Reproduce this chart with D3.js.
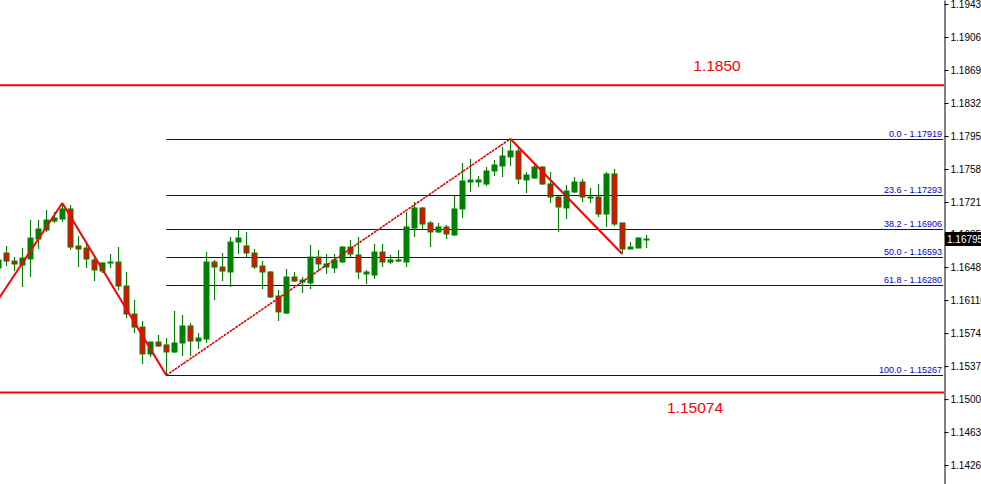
<!DOCTYPE html>
<html><head><meta charset="utf-8">
<script src="https://cdn.jsdelivr.net/npm/d3@7/dist/d3.min.js"></script>
<style>
html,body{margin:0;padding:0;background:#fff;}
svg{display:block;}
</style></head>
<body>
<svg id="chart" width="981" height="484"></svg>
<script>
const opens = [1.16470,1.16638,1.16548,1.16504,1.16571,1.16795,1.16896,1.16997,1.17019,1.17132,
1.16717,1.16694,1.16560,1.16436,1.16526,1.16537,1.16268,1.15954,1.15808,1.15506,
1.15640,1.15607,1.15528,1.15629,1.15820,1.15651,1.15674,1.16537,1.16481,1.16425,
1.16761,1.16717,1.16638,1.16492,1.16425,1.16156,1.15965,1.16369,1.16313,1.16302,
1.16593,1.16481,1.16470,1.16537,1.16705,1.16616,1.16403,1.16391,1.16649,1.16537,
1.16548,1.16537,1.16918,1.17143,1.16975,1.16874,1.16930,1.16840,1.17132,1.17434,
1.17434,1.17412,1.17558,1.17614,1.17715,1.17782,1.17457,1.17479,1.17602,1.17412,
1.17266,1.17143,1.17322,1.17434,1.17255,1.17266,1.17075,1.17524,1.16975,1.16683,
1.16694,1.16790];
const highs = [1.16616,1.16717,1.16593,1.16694,1.17008,1.17008,1.17120,1.17098,1.17199,1.17176,
1.16829,1.16761,1.16593,1.16537,1.16627,1.16705,1.16425,1.16111,1.15876,1.15640,
1.15719,1.15685,1.15988,1.15943,1.15853,1.15741,1.16649,1.16560,1.16638,1.16817,
1.16896,1.16874,1.16683,1.16548,1.16436,1.16223,1.16459,1.16425,1.16369,1.16728,
1.16672,1.16627,1.16627,1.16717,1.16784,1.16817,1.16448,1.16739,1.16739,1.16616,
1.16672,1.17098,1.17210,1.17154,1.16997,1.16975,1.16952,1.17277,1.17647,1.17692,
1.17502,1.17602,1.17681,1.17827,1.17919,1.17838,1.17546,1.17647,1.17614,1.17546,
1.17277,1.17401,1.17490,1.17468,1.17367,1.17412,1.17546,1.17580,1.16975,1.16761,
1.16817,1.16840];
const lows = [1.16448,1.16492,1.16436,1.16257,1.16369,1.16683,1.16874,1.16975,1.16986,1.16672,
1.16481,1.16470,1.16324,1.16414,1.16470,1.16223,1.15909,1.15741,1.15394,1.15472,
1.15584,1.15267,1.15517,1.15483,1.15483,1.15562,1.15629,1.16111,1.16324,1.16257,
1.16627,1.16593,1.16459,1.16234,1.16134,1.15876,1.15954,1.16313,1.16190,1.16234,
1.16436,1.16403,1.16414,1.16526,1.16582,1.16347,1.16290,1.16347,1.16481,1.16515,
1.16537,1.16481,1.16817,1.16907,1.16705,1.16862,1.16795,1.16829,1.17031,1.17322,
1.17378,1.17389,1.17502,1.17490,1.17614,1.17412,1.17311,1.17468,1.17401,1.17199,
1.16874,1.17019,1.17311,1.17210,1.17199,1.17042,1.16930,1.16941,1.16627,1.16683,
1.16694,1.16694];
const closes = [1.16560,1.16548,1.16515,1.16582,1.16806,1.16907,1.17008,1.17031,1.17132,1.16705,
1.16683,1.16571,1.16448,1.16526,1.16537,1.16268,1.15954,1.15808,1.15506,1.15640,
1.15595,1.15528,1.15629,1.15820,1.15651,1.15685,1.16537,1.16481,1.16436,1.16761,
1.16806,1.16638,1.16481,1.16425,1.16145,1.15977,1.16369,1.16324,1.16335,1.16593,
1.16515,1.16515,1.16560,1.16705,1.16627,1.16425,1.16425,1.16649,1.16537,1.16560,
1.16560,1.16930,1.17143,1.16963,1.16874,1.16930,1.16851,1.17132,1.17445,1.17457,
1.17457,1.17558,1.17625,1.17726,1.17782,1.17468,1.17513,1.17602,1.17412,1.17266,
1.17154,1.17333,1.17434,1.17266,1.17266,1.17075,1.17524,1.16963,1.16683,1.16705,
1.16806,1.16795];

// zigzag pivots: bar index and price
const zigzagIdx = [-3, 8, 21, 64, 78];
const zigzagPrice = [1.15714, 1.17199, 1.15267, 1.17919, 1.16627];

// fibonacci retracement
const fibLevels = [0.0, 23.6, 38.2, 50.0, 61.8, 100.0];
const fibHigh = 1.17919, fibLow = 1.15267;
const fibStartIdx = 21, fibEndIdx = 64;

// horizontal support/resistance
const hLevels = [1.1852, 1.15074];
const hLabels = ["1.1850", "1.15074"];

const tickVals = [1.19430,1.19060,1.18690,1.18320,1.17950,1.17580,1.17210,1.16850,1.16480,1.16110,1.15740,1.15370,1.15000,1.14630,1.14260];
const lastPrice = 1.16795;

const W = 981, H = 484, axisX = 944;
const svg = d3.select("#chart");
const y = d3.scaleLinear().domain([1.14048, 1.19475]).range([H, 0]);
const x = d3.scaleLinear().domain([0, opens.length - 1]).range([-1.7, 646.3]);

const GREEN = "#008000", RED = "#ff0000", BLUE = "#0000cc";
const FONT = "'Liberation Sans', Arial, sans-serif";

svg.append("defs").append("clipPath").attr("id","clip").append("rect")
  .attr("x",0).attr("y",0).attr("width",axisX).attr("height",H);
const plot = svg.append("g").attr("clip-path","url(#clip)");

// red horizontal lines
plot.selectAll(".hl").data(hLevels).enter().append("line")
  .attr("x1",0).attr("x2",axisX).attr("y1",d=>y(d)).attr("y2",d=>y(d))
  .attr("stroke",RED).attr("stroke-width",2);

// fib lines
const fibVals = fibLevels.map(l => fibHigh - (fibHigh - fibLow) * l / 100);
plot.selectAll(".fl").data(fibVals).enter().append("line")
  .attr("x1",x(fibStartIdx)).attr("x2",axisX-1)
  .attr("y1",d=>Math.round(y(d))+0.5).attr("y2",d=>Math.round(y(d))+0.5)
  .attr("stroke",BLUE).attr("stroke-width",1);
plot.selectAll(".ft").data(fibVals).enter().append("text")
  .attr("x",axisX-2).attr("y",d=>Math.round(y(d))-2)
  .attr("text-anchor","end").attr("fill",BLUE)
  .style("font-family",FONT).style("font-size","9px")
  .text((d,i)=>fibLevels[i].toFixed(1)+" - "+d.toFixed(5));

// candles
const idx = d3.range(opens.length);
const cg = plot.append("g");
cg.selectAll(".wick").data(idx).enter().append("line")
  .attr("x1",i=>Math.round(x(i))+0.5).attr("x2",i=>Math.round(x(i))+0.5)
  .attr("y1",i=>y(highs[i])).attr("y2",i=>y(lows[i]))
  .attr("stroke",GREEN).attr("stroke-width",1);
cg.selectAll(".body").data(idx).enter().append("rect")
  .attr("x",i=>Math.round(x(i))-2)
  .attr("width",5)
  .attr("y",i=>y(Math.max(opens[i],closes[i])))
  .attr("height",i=>Math.max(1, Math.abs(y(opens[i])-y(closes[i]))))
  .attr("fill",i=>closes[i]>=opens[i]?GREEN:RED)
  .attr("stroke",GREEN).attr("stroke-width",1);

// zigzag
const pts = zigzagIdx.map((d,i)=>[x(d), y(zigzagPrice[i])]);
[[0,1],[1,2],[3,4]].forEach(s=>{
  plot.append("line").attr("x1",pts[s[0]][0]).attr("y1",pts[s[0]][1])
    .attr("x2",pts[s[1]][0]).attr("y2",pts[s[1]][1])
    .attr("stroke",RED).attr("stroke-width",2);
});
// fib trend line (red dashed with dark stipple)
const a = [x(fibStartIdx), y(fibLow)], b = [x(fibEndIdx), y(fibHigh)];
plot.append("line").attr("x1",a[0]).attr("y1",a[1]).attr("x2",b[0]).attr("y2",b[1])
  .attr("stroke",RED).attr("stroke-width",1.6).attr("stroke-dasharray","2.5,1");
plot.append("line").attr("x1",a[0]).attr("y1",a[1]).attr("x2",b[0]).attr("y2",b[1])
  .attr("stroke","#300000").attr("stroke-width",1).attr("stroke-dasharray","1,4");

// labels for red lines
svg.selectAll(".hlt").data(hLevels).enter().append("text")
  .attr("x",(d,i)=> i===0 ? 717 : 695)
  .attr("y",(d,i)=> i===0 ? y(d)-14 : y(d)+21)
  .attr("text-anchor","middle").attr("fill",RED)
  .style("font-family",FONT).style("font-size","15.5px")
  .text((d,i)=>hLabels[i]);

// right axis
const axis = d3.axisRight(y).tickValues(tickVals).tickSize(4).tickSizeOuter(0).tickPadding(2)
  .tickFormat(d3.format(".5f"));
const ag = svg.append("g").attr("transform",`translate(${axisX+0.5},0)`).call(axis);
ag.select(".domain").attr("stroke","#000");
ag.selectAll(".tick line").attr("stroke","#000");
ag.selectAll("text").attr("fill","#000")
  .style("font-family",FONT).style("font-size","10px");

// last price box
const ly = y(lastPrice);
svg.append("rect").attr("x",axisX+1).attr("y",Math.round(ly)-7).attr("width",W-axisX).attr("height",14).attr("fill","#000");
svg.append("text").attr("x",axisX+3).attr("y",ly).attr("dy","0.35em").attr("fill","#fff")
  .style("font-family",FONT).style("font-size","10px")
  .text(lastPrice.toFixed(5));
</script>
</body></html>
